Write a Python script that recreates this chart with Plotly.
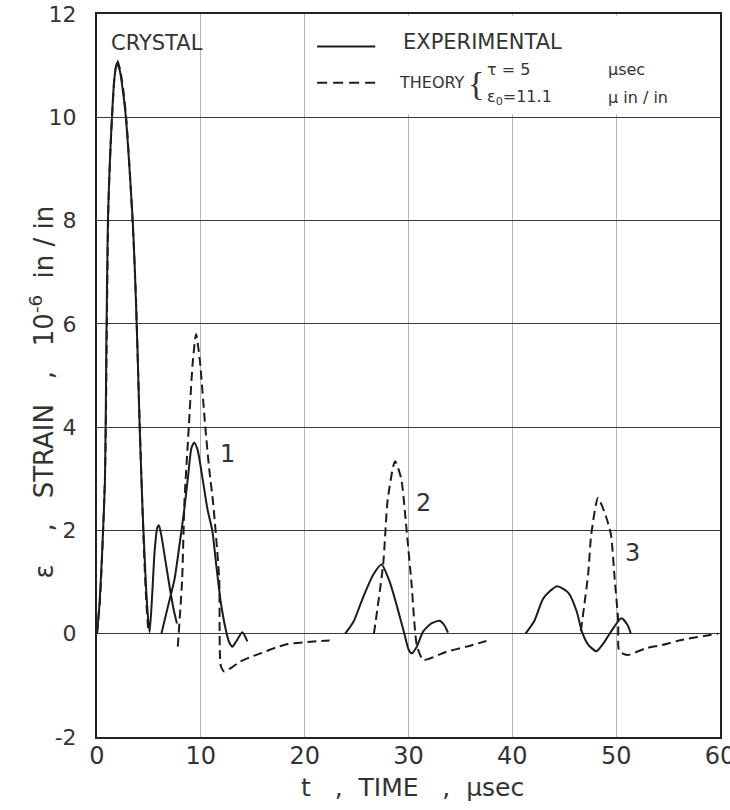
import plotly.graph_objects as go

# ---------------- data ----------------
# Crystal (incident pulse)
exp0_t = [0, 0.25, 0.5, 0.77, 0.9, 1.05, 1.25, 1.44, 1.65, 1.91, 2.2, 2.5, 2.78, 3.1, 3.44, 3.64,
          3.9, 4.11, 4.28, 4.43, 4.7, 4.9, 5.07, 5.3, 5.55, 5.8, 5.96, 6.2, 6.6, 7.0, 7.4, 7.7]
exp0_y = [0, 0.6, 1.6, 3.0, 5.6, 8.0, 9.2, 10.0, 10.7, 11.05, 10.9, 10.5, 10.0, 9.1, 8.0, 7.07,
          5.5, 4.0, 3.0, 2.2, 1.0, 0.35, 0.03, 0.7, 1.6, 2.05, 2.1, 1.9, 1.4, 0.9, 0.45, 0.2]
th0_t = [0, 0.3, 0.55, 0.8, 0.95, 1.1, 1.3, 1.5, 1.7, 1.95, 2.25, 2.55, 2.85, 3.2, 3.5, 3.75, 4.0, 4.2, 4.45, 4.7, 4.95]
th0_y = [0, 0.7, 1.8, 3.3, 6.0, 8.3, 9.4, 10.2, 10.8, 11.1, 10.9, 10.5, 9.9, 8.8, 7.7, 6.5, 4.8, 3.5, 2.0, 0.8, 0.0]

# Gauge 1
exp1_t = [6.2, 6.8, 7.46, 8.0, 8.4, 8.8, 9.1, 9.38, 9.7, 10.17, 10.65, 11.1, 11.5, 11.93, 12.4, 12.7,
          13.04, 13.4, 14.0, 14.48]
exp1_y = [0, 0.5, 1.05, 1.8, 2.4, 3.1, 3.6, 3.7, 3.55, 3.0, 2.4, 2.0, 1.3, 0.6, 0.08, -0.15,
          -0.25, -0.15, 0.03, -0.15]
th1_t = [7.78, 8.2, 8.42, 8.84, 9.2, 9.54, 9.9, 10.43, 10.8, 11.2, 11.77, 11.93, 12.25, 13.0, 13.7,
         14.8, 15.9, 17.2, 18.4, 20.3, 22.4]
th1_y = [-0.25, 1.05, 2.55, 4.0, 5.2, 5.8, 5.3, 4.0, 3.2, 2.5, 1.05, -0.63, -0.73, -0.65, -0.55,
         -0.45, -0.37, -0.27, -0.2, -0.16, -0.13]

# Gauge 2
exp2_t = [23.9, 24.7, 25.6, 26.6, 27.4, 28.2, 28.85, 29.2, 29.6, 30.0, 30.3, 30.8, 31.4, 32.2, 33.0, 33.5, 33.8]
exp2_y = [0, 0.23, 0.69, 1.14, 1.34, 1.0, 0.56, 0.3, 0.0, -0.3, -0.38, -0.25, 0.04, 0.2, 0.25, 0.15, 0.02]
th2_t = [26.67, 27.56, 28.0, 28.7, 29.3, 29.8, 30.3, 30.8, 31.4, 32.05, 33.65, 35.6, 37.5]
th2_y = [0, 1.34, 2.6, 3.34, 3.0, 2.04, 0.95, -0.22, -0.51, -0.48, -0.35, -0.25, -0.14]

# Gauge 3
exp3_t = [41.27, 42.1, 43.0, 44.3, 45.4, 46.2, 46.7, 47.3, 48.1, 48.9, 49.4, 50.5, 51.1, 51.4]
exp3_y = [0, 0.24, 0.69, 0.92, 0.79, 0.43, 0.04, -0.21, -0.34, -0.15, 0.01, 0.3, 0.17, 0.01]
th3_t = [46.6, 47.3, 47.6, 48.25, 49.05, 49.5, 49.85, 50.2, 50.3, 51.1, 52.9, 54.4, 56.3, 59.8]
th3_y = [0.05, 1.15, 1.92, 2.63, 2.25, 1.92, 1.08, 0.24, -0.34, -0.41, -0.28, -0.22, -0.12, 0.0]

x_ticks = [0, 10, 20, 30, 40, 50, 60]
x_ticklabels = ["0", "10", "20", "30", "40", "50", "60"]
y_ticks = [-2, 0, 2, 4, 6, 8, 10, 12]
y_ticklabels = ["-2", "0", "2", "4", "6", "8", "10", "12"]

gauge_labels = ["1", "2", "3"]
gauge_label_t = [12.57, 31.4, 51.6]
gauge_label_y = [3.48, 2.53, 1.57]

# ---------------- styling ----------------
FONT = "DejaVu Sans"
INK = "#1c1c1c"
TXT = "#333333"
DASH = "9px,5px"
NB = "\u00a0"

fig = go.Figure()

solid_sets = [(exp0_t, exp0_y), (exp1_t, exp1_y), (exp2_t, exp2_y), (exp3_t, exp3_y)]
dash_sets = [(th0_t, th0_y), (th1_t, th1_y), (th2_t, th2_y), (th3_t, th3_y)]

for tt, yy in dash_sets:
    fig.add_trace(go.Scatter(x=tt, y=yy, mode="lines",
                             line=dict(color=INK, width=2, dash=DASH, shape="spline", smoothing=0.6),
                             showlegend=False, hoverinfo="skip"))
for tt, yy in solid_sets:
    fig.add_trace(go.Scatter(x=tt, y=yy, mode="lines",
                             line=dict(color=INK, width=2, shape="spline", smoothing=0.6),
                             showlegend=False, hoverinfo="skip"))

# legend box background (hides vertical grid)
fig.add_shape(type="rect", xref="x", yref="y", x0=21, x1=59.9, y0=10.06, y1=11.97,
              fillcolor="white", line=dict(width=0), layer="between")
# legend sample lines
fig.add_shape(type="line", xref="x", yref="y", x0=21.2, x1=26.8, y0=11.37, y1=11.37,
              line=dict(color=INK, width=2))
fig.add_shape(type="line", xref="x", yref="y", x0=21.2, x1=26.8, y0=10.67, y1=10.67,
              line=dict(color=INK, width=2, dash="10px,6px"))

ann = []
def txt(x, y, s, size, anchor="left", **kw):
    d = dict(x=x, y=y, xref="x", yref="y", text=s, showarrow=False,
             xanchor=anchor, yanchor="middle", font=dict(family=FONT, size=size, color=TXT))
    d.update(kw)
    ann.append(d)

txt(29.3, 11.45, "EXPERIMENTAL", 21)
txt(28.9, 10.67, "THEORY", 16)
txt(36.5, 10.66, "{", 34, anchor="center", font=dict(family="Liberation Serif", size=34, color=TXT))
txt(37.4, 10.92, "τ = 5", 16)
txt(49.0, 10.92, "μsec", 16)
txt(37.4, 10.39, "ε<sub>0</sub>=11.1", 16)
txt(49.0, 10.39, "μ in / in", 16)

txt(1.2, 11.44, "CRYSTAL", 21)
for lab, tx, ty in zip(gauge_labels, gauge_label_t, gauge_label_y):
    txt(tx, ty, lab, 24, anchor="center")

# axis titles
xtitle = "t" + NB * 2 + " ," + NB + " TIME" + NB * 2 + " ," + NB + " μsec"
ytitle = ("ε" + NB * 3 + " ," + NB * 2 + " STRAIN" + NB * 2 + " ," + NB * 2 + " 10<sup>-6</sup>"
          + NB + " in / in")
ann.append(dict(x=0.5, y=0, xref="paper", yref="paper", yshift=-50, xshift=4,
                text=xtitle, showarrow=False,
                xanchor="center", yanchor="middle", font=dict(family=FONT, size=25, color=TXT)))
ann.append(dict(x=0, y=0.5, xref="paper", yref="paper", xshift=-55, yshift=-17,
                text=ytitle, showarrow=False,
                textangle=-90, xanchor="center", yanchor="middle",
                font=dict(family=FONT, size=26, color=TXT)))

fig.update_layout(
    width=730, height=810,
    margin=dict(l=97, r=10, t=14, b=73),
    plot_bgcolor="white", paper_bgcolor="white",
    showlegend=False,
    annotations=ann,
    font=dict(family=FONT, color=TXT),
)
fig.update_xaxes(range=[0, 60], tickvals=x_ticks, ticktext=x_ticklabels, automargin=False,
                 showgrid=True, gridcolor="#b5b5b5", gridwidth=1,
                 showline=True, linecolor="#222", linewidth=2, mirror=True,
                 zeroline=False, ticks="", ticklabeloverflow="allow", ticklabelstandoff=-4,
                 tickfont=dict(family=FONT, size=24, color=TXT))
fig.update_yaxes(range=[-2, 12], tickvals=y_ticks, ticktext=y_ticklabels, automargin=False,
                 showgrid=True, gridcolor="#3a3a3a", gridwidth=1.3,
                 showline=True, linecolor="#222", linewidth=2, mirror=True,
                 zeroline=False, ticks="", ticklabelstandoff=14,
                 tickfont=dict(family=FONT, size=22, color=TXT))

fig.write_html("out.html", config={"displayModeBar": False},
               post_script="document.body.style.margin='0';document.body.style.overflow='hidden';")
